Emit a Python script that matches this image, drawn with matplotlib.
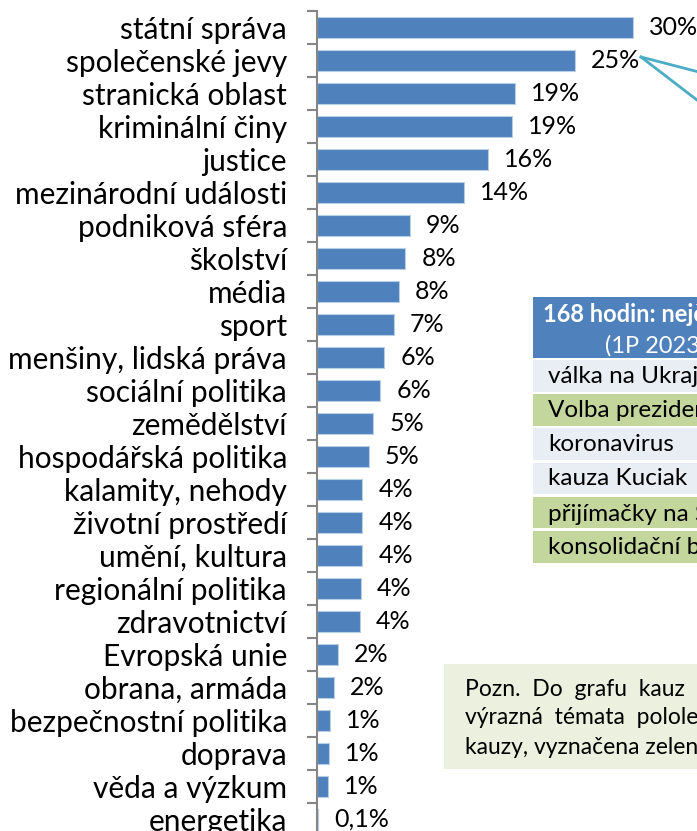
import numpy as np
import matplotlib
matplotlib.use('Agg')
import matplotlib.pyplot as plt
from matplotlib.patches import Rectangle
from matplotlib.lines import Line2D

plt.rcParams['font.family'] = ['Lato', 'DejaVu Sans']

categories = ['státní správa', 'společenské jevy', 'stranická oblast', 'kriminální činy',
              'justice', 'mezinárodní události', 'podniková sféra', 'školství', 'média',
              'sport', 'menšiny, lidská práva', 'sociální politika', 'zemědělství',
              'hospodářská politika', 'kalamity, nehody', 'životní prostředí',
              'umění, kultura', 'regionální politika', 'zdravotnictví', 'Evropská unie',
              'obrana, armáda', 'bezpečnostní politika', 'doprava', 'věda a výzkum',
              'energetika']
values = [30.0, 24.5, 18.8, 18.5, 16.2, 14.0, 8.8, 8.4, 7.8, 7.3, 6.4, 6.0, 5.35,
          4.9, 4.3, 4.3, 4.3, 4.2, 4.05, 2.0, 1.6, 1.2, 1.14, 1.07, 0.1]
value_labels = ['30%', '25%', '19%', '19%', '16%', '14%', '9%', '8%', '8%', '7%',
                '6%', '6%', '5%', '5%', '4%', '4%', '4%', '4%', '4%', '2%', '2%',
                '1%', '1%', '1%', '0,1%']

table_title = '168 hodin: nejčastější témata'
table_subtitle = '(1P 2023)'
table_topics = ['válka na Ukrajině', 'Volba prezidenta', 'koronavirus', 'kauza Kuciak',
                'přijímačky na SŠ', 'konsolidační balíček']
table_is_kauza = [False, True, False, False, True, True]

note_lines = ['Pozn.  Do  grafu  kauz  byla  zařazena  i',
              'výrazná  témata  pololetí,  která  nejsou',
              'kauzy, vyznačena zeleně.']

W, H = 697, 831
fig = plt.figure(figsize=(W / 100, H / 100), dpi=100)


def fx(x):
    return x / W


def fy(y):
    return 1 - y / H


def box(x0, y0, x1, y1, color):
    fig.add_artist(Rectangle((fx(x0), fy(y1)), (x1 - x0) / W, (y1 - y0) / H,
                             transform=fig.transFigure, facecolor=color,
                             edgecolor='none'))


# bar chart
n = len(categories)
ax = fig.add_axes([fx(317), fy(836), 380 / W, 825 / H])
ax.barh(np.arange(n), values, height=0.65, color='#4F81BD',
        edgecolor='#B9CDE5', linewidth=0.8)
ax.set_ylim(n - 0.5, -0.5)
ax.set_xlim(0, 380 / 10.53)
ax.set_yticks(np.arange(n), categories, fontsize=21.5)
ax.set_yticks(np.arange(-0.5, n), minor=True)
ax.tick_params(axis='y', which='major', length=0, pad=21.6)
ax.tick_params(axis='y', which='minor', length=7.2, width=1.5, color='#868686')
ax.set_xticks([])
for s in ['top', 'right', 'bottom']:
    ax.spines[s].set_visible(False)
ax.spines['left'].set_color('#868686')
ax.spines['left'].set_linewidth(1.5)

for i, (v, lab) in enumerate(zip(values, value_labels)):
    ax.annotate(lab, (v, i), xytext=(11.5, 0), textcoords='offset points',
                va='center', ha='left', fontsize=18)

# callout lines from the 25% label
fig.add_artist(Line2D([fx(641), fx(697)], [fy(57), fy(71.5)], color='#4BACC6', lw=2))
fig.add_artist(Line2D([fx(641), fx(697)], [fy(57), fy(100)], color='#4BACC6', lw=2))

# table
box(533, 297, 760, 358, '#4F81BD')
fig.text(fx(543), fy(314), table_title, color='white', fontsize=17,
         fontweight='bold', va='center', ha='left')
fig.text(fx(605), fy(346), table_subtitle, color='white', fontsize=17,
         va='center', ha='left')
row_top = 360
for topic, kauza in zip(table_topics, table_is_kauza):
    box(533, row_top, 760, row_top + 31.5, '#C3D69B' if kauza else '#E9EDF4')
    fig.text(fx(548), fy(row_top + 16), topic, fontsize=17.5, va='center', ha='left')
    row_top += 34.2

# note
box(444, 664, 760, 769, '#EBF1DE')
for k, line in enumerate(note_lines):
    fig.text(fx(465), fy(689 + 29 * k), line, fontsize=16.5, va='center', ha='left')

fig.savefig('out.png', dpi=100)
